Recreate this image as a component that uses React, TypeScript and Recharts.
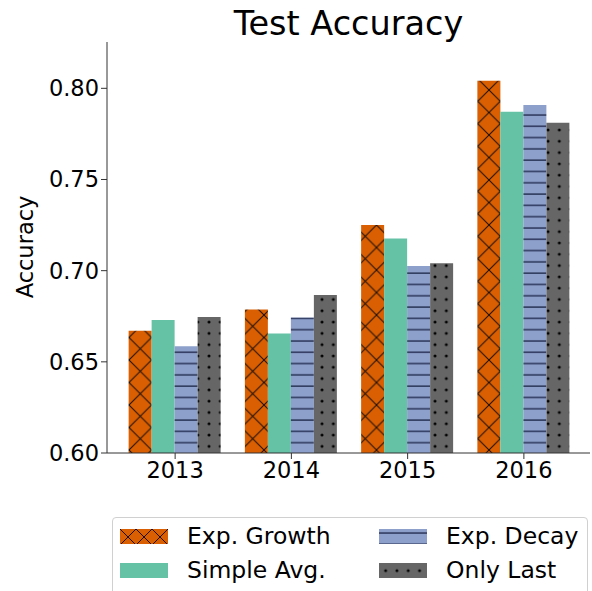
import React from 'react';
import { BarChart, Bar, XAxis, YAxis } from 'recharts';

// values
const years = ['2013', '2014', '2015', '2016'];
const expGrowth = [0.667, 0.6787, 0.7251, 0.8042];
const simpleAvg = [0.673, 0.6655, 0.7177, 0.7872];
const expDecay = [0.6586, 0.6743, 0.7026, 0.7908];
const onlyLast = [0.6746, 0.6867, 0.704, 0.7811];
const yTicks = [0.6, 0.65, 0.7, 0.75, 0.8];
const yDomain = [0.6, 0.8254];

const seriesNames = ['Exp. Growth', 'Simple Avg.', 'Exp. Decay', 'Only Last'];

const data = years.map((year, i) => ({
  year,
  expGrowth: expGrowth[i],
  simpleAvg: simpleAvg[i],
  expDecay: expDecay[i],
  onlyLast: onlyLast[i],
}));

const ORANGE = '#d95f02';
const GREEN = '#66c2a5';
const BLUE = '#8da0cb';
const GRAY = '#666666';
const AXIS = '#333333';
const FONT = '"DejaVu Sans", sans-serif';

// hatch patterns, shared by bars and legend (size differs)
const Patterns = ({ prefix, xTile }: { prefix: string; xTile: number }) => (
  <defs>
    <pattern id={`${prefix}X`} patternUnits="userSpaceOnUse" width={xTile} height={xTile} x={prefix === 'bar' ? 129 : 0}>
      <rect width={xTile} height={xTile} fill={ORANGE} />
      <path
        d={`M-2,-2 L${xTile + 2},${xTile + 2} M${xTile + 2},-2 L-2,${xTile + 2}`}
        stroke="#1a0d00"
        strokeWidth={1}
      />
    </pattern>
    <pattern id={`${prefix}H`} patternUnits="userSpaceOnUse" width={10} height={11.3} y={prefix === 'bar' ? 0 : 2}>
      <rect width={10} height={11.3} fill={BLUE} />
      <line x1={0} x2={10} y1={2} y2={2} stroke="#2b3458" strokeWidth={1.5} />
    </pattern>
    <pattern id={`${prefix}D`} patternUnits="userSpaceOnUse" width={11.3} height={11.3} x={prefix === 'bar' ? 0 : 1} y={prefix === 'bar' ? 0 : 2}>
      <rect width={11.3} height={11.3} fill={GRAY} />
      <circle cx={5.65} cy={5.65} r={1.5} fill="#000" />
    </pattern>
  </defs>
);

const legendFills = ['url(#lgX)', GREEN, 'url(#lgH)', 'url(#lgD)'];

const Legend = () => (
  <div
    style={{
      position: 'absolute',
      left: 112,
      top: 517,
      width: 474,
      height: 90,
      border: '1px solid #d0d0d0',
      borderRadius: 4,
      background: '#fff',
      fontFamily: FONT,
      fontSize: 23.5,
    }}
  >
    {seriesNames.map((name, i) => {
      const col = i < 2 ? 0 : 1;
      const row = i % 2;
      return (
        <div
          key={name}
          style={{
            position: 'absolute',
            left: col === 0 ? 7 : 266,
            top: row === 0 ? 6 : 40,
            height: 24,
            display: 'flex',
            alignItems: 'center',
            whiteSpace: 'nowrap',
          }}
        >
          <svg width={48} height={15} style={{ display: 'block' }}>
            {i === 0 && <Patterns prefix="lg" xTile={16} />}
            <rect width={48} height={15} fill={legendFills[i]} />
          </svg>
          <span style={{ marginLeft: 19, color: '#000', lineHeight: '24px' }}>{name}</span>
        </div>
      );
    })}
  </div>
);

const tickStyle = { fontSize: 22.5, fill: '#000', fontFamily: FONT };

export default function App() {
  return (
    <div
      style={{
        position: 'fixed',
        left: 0,
        top: 0,
        width: 592,
        height: 591,
        overflow: 'hidden',
        background: '#fff',
        fontFamily: FONT,
      }}
    >
      <div
        style={{
          position: 'absolute',
          left: 107,
          width: 483,
          top: 7,
          textAlign: 'center',
          fontSize: 33.5,
          lineHeight: 1,
          color: '#000',
        }}
      >
        Test Accuracy
      </div>
      <div
        style={{
          position: 'absolute',
          left: 25,
          top: 247,
          transform: 'translate(-50%, -50%) rotate(-90deg)',
          fontSize: 22.5,
          lineHeight: 1,
          color: '#000',
          whiteSpace: 'nowrap',
        }}
      >
        Accuracy
      </div>
      <BarChart
        width={592}
        height={591}
        data={data}
        margin={{ top: 42, right: 2, left: 0, bottom: 98 }}
        barGap={0}
        barCategoryGap="10%"
        style={{ position: 'absolute', left: 0, top: 0 }}
      >
        <Patterns prefix="bar" xTile={22.5} />
        <XAxis
          dataKey="year"
          height={40}
          padding={{ left: 10, right: 8 }}
          tick={tickStyle}
          tickSize={6}
          tickMargin={3}
          stroke={AXIS}
          axisLine={{ stroke: AXIS }}
          tickLine={{ stroke: AXIS }}
        />
        <XAxis
          xAxisId="top"
          dataKey="year"
          orientation="top"
          height={0}
          tick={false}
          tickLine={false}
          axisLine={{ stroke: AXIS }}
        />
        <YAxis
          width={107}
          domain={yDomain}
          ticks={yTicks}
          allowDataOverflow
          tickFormatter={(v: number) => v.toFixed(2)}
          tick={tickStyle}
          tickSize={6}
          tickMargin={2}
          axisLine={{ stroke: AXIS }}
          tickLine={{ stroke: AXIS }}
        />
        <YAxis
          yAxisId="right"
          orientation="right"
          width={0}
          domain={yDomain}
          allowDataOverflow
          tick={false}
          tickLine={false}
          axisLine={{ stroke: AXIS }}
        />
        <Bar dataKey="expGrowth" fill="url(#barX)" isAnimationActive={false} />
        <Bar dataKey="simpleAvg" fill={GREEN} isAnimationActive={false} />
        <Bar dataKey="expDecay" fill="url(#barH)" isAnimationActive={false} />
        <Bar dataKey="onlyLast" fill="url(#barD)" isAnimationActive={false} />
      </BarChart>
      <Legend />
    </div>
  );
}
